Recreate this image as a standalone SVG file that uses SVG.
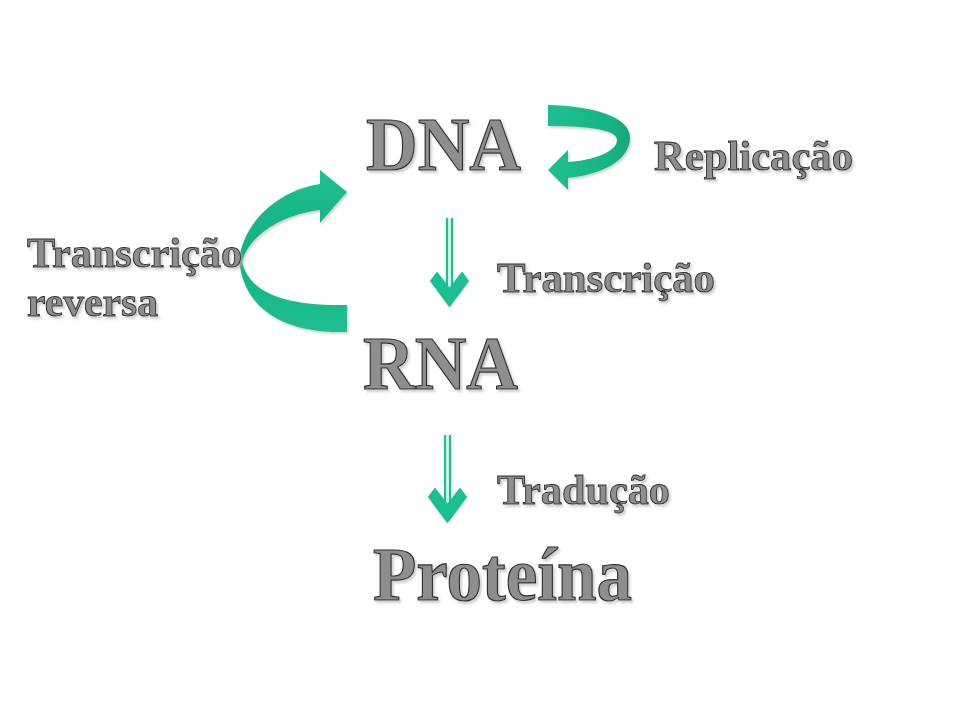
<svg xmlns="http://www.w3.org/2000/svg" width="960" height="720" viewBox="0 0 960 720">
<style>
.big{font-family:"Liberation Serif","Times New Roman",serif;font-weight:bold;font-size:76px;fill:#8e8e8e;stroke:#2e2e2e;stroke-width:1.2;filter:url(#sh)}
.lbl{font-family:"Liberation Serif","Times New Roman",serif;font-weight:bold;font-size:42px;fill:#8e8e8e;stroke:#2e2e2e;stroke-width:0.9;filter:url(#sh)}
.shaft{stroke:#1cbf8f;stroke-width:2.2}
.core{stroke:#d8f4ea;stroke-width:2.8}
.head{fill:#1cbf8f;stroke:#1cbf8f;stroke-width:2;stroke-linejoin:round}
</style>
<defs>
<filter id="sh" x="-10%" y="-10%" width="130%" height="140%">
<feDropShadow dx="2" dy="2.5" stdDeviation="0.8" flood-color="#b0b0b0" flood-opacity="0.6"/>
</filter>
<filter id="rsh" x="-10%" y="-10%" width="130%" height="130%">
<feDropShadow dx="1.5" dy="2" stdDeviation="1" flood-color="#a8a8a8" flood-opacity="0.5"/>
</filter>
<linearGradient id="g1" x1="0" y1="0" x2="1" y2="0">
<stop offset="0" stop-color="#1cbf8f"/>
<stop offset="0.75" stop-color="#18b487"/>
<stop offset="1" stop-color="#12a57a"/>
</linearGradient>
<linearGradient id="g2" x1="0" y1="0" x2="0" y2="1">
<stop offset="0" stop-color="#1cc090"/>
<stop offset="0.5" stop-color="#16b084"/>
<stop offset="1" stop-color="#1cc090"/>
</linearGradient>
</defs>
<rect width="960" height="720" fill="#ffffff"/>
<g id="dna"><text class="big" x="366" y="170" textLength="155" lengthAdjust="spacingAndGlyphs">DNA</text></g>
<g id="rna"><text class="big" x="363" y="389" textLength="155" lengthAdjust="spacingAndGlyphs">RNA</text></g>
<g id="proteina"><text class="big" x="373" y="600" textLength="259" lengthAdjust="spacingAndGlyphs">Proteína</text></g>
<g id="connectors">
<g id="replicacao-arrow" filter="url(#rsh)">
<path fill="url(#g1)" d="M548,105 C592,106 630,116 630,138 C630,160 602,175 568,178 L568,190 L548,170 L568,150 L568,162 C596,160 617,151 617,140 C617,130 590,126 548,126 Z"/>
</g>
<g id="reversa-arrow" filter="url(#rsh)">
<path fill="url(#g2)" d="M320,184 L320,170 L347,192 L320,223 L320,210 C287,214 250,232 242,262 C250,296 292,306 347,305 L347,332 C288,334 244,312 239,260 C244,220 280,190 320,184 Z"/>
</g>
<g id="transcricao-arrow">
<line class="core" x1="449.5" y1="218" x2="449.5" y2="290"/>
<line class="shaft" x1="447" y1="218" x2="447" y2="292"/>
<line class="shaft" x1="452" y1="218" x2="452" y2="292"/>
<path class="head" d="M449.5,306 L431,281 L437,273 L449.5,289 L462,273 L468,281 Z"/>
</g>
<g id="traducao-arrow">
<line class="core" x1="447.5" y1="435" x2="447.5" y2="506"/>
<line class="shaft" x1="445" y1="435" x2="445" y2="508"/>
<line class="shaft" x1="450" y1="435" x2="450" y2="508"/>
<path class="head" d="M447.5,522 L429,497 L435,489 L447.5,505 L460,489 L466,497 Z"/>
</g>
<text class="lbl" x="654" y="170" textLength="199" lengthAdjust="spacingAndGlyphs">Replicação</text>
<text class="lbl" x="27" y="267" textLength="215" lengthAdjust="spacingAndGlyphs">Transcrição</text>
<text class="lbl" x="27" y="316" textLength="131" lengthAdjust="spacingAndGlyphs">reversa</text>
<text class="lbl" x="497" y="292" textLength="218" lengthAdjust="spacingAndGlyphs">Transcrição</text>
<text class="lbl" x="497" y="504" textLength="173" lengthAdjust="spacingAndGlyphs">Tradução</text>
</g>
</svg>
